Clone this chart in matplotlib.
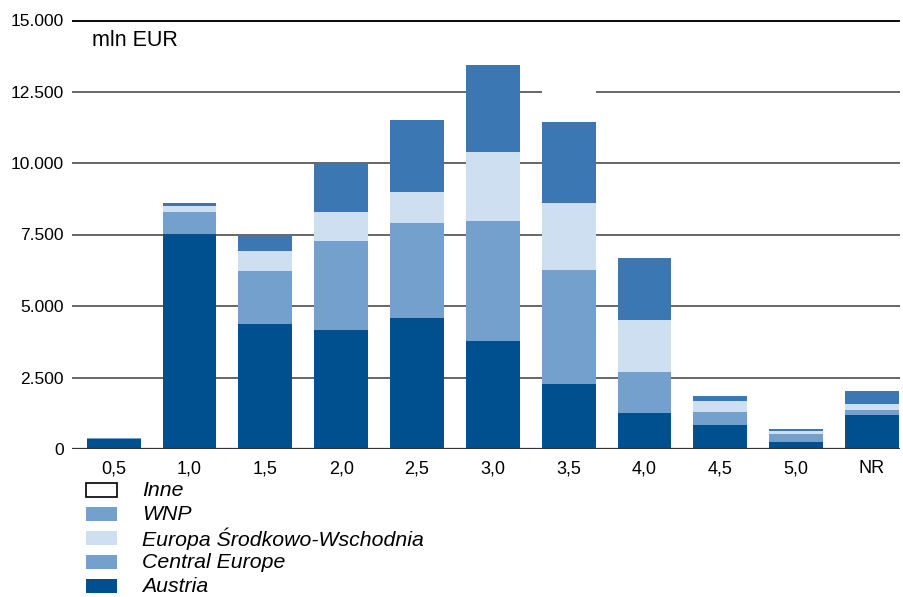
import matplotlib
matplotlib.use("Agg")
import matplotlib.pyplot as plt
from matplotlib.patches import Rectangle
import numpy as np

plt.rcParams['font.family'] = ['Liberation Sans', 'DejaVu Sans']

categories = ["0,5", "1,0", "1,5", "2,0", "2,5", "3,0", "3,5", "4,0", "4,5", "5,0", "NR"]
austria = [350, 7517, 4371, 4161, 4580, 3776, 2273, 1259, 839, 245, 1189]
central_europe = [20, 770, 1853, 3112, 3320, 4196, 3986, 1433, 455, 279, 175]
europa_sw = [0, 210, 699, 1014, 1086, 2412, 2342, 1818, 384, 105, 209]
wnp = [0, 104, 560, 1678, 2514, 3043, 2833, 2168, 175, 70, 455]
inne = [0, 0, 0, 0, 0, 0, 1200, 0, 0, 0, 0]

yticks = [0, 2500, 5000, 7500, 10000, 12500, 15000]
ytick_labels = ["0", "2.500", "5.000", "7.500", "10.000", "12.500", "15.000"]

legend_labels = ["Inne", "WNP", "Europa Środkowo-Wschodnia", "Central Europe", "Austria"]

c_austria = "#00508f"
c_ce = "#73a0cc"
c_esw = "#cddff0"
c_wnp = "#3b78b3"

fig = plt.figure(figsize=(9.04, 5.97), dpi=100)
ax = fig.add_axes([72/904, 1-449/597, (900-72)/904, (449-20)/597])

x = np.arange(len(categories))
w = 0.71
series = [(austria, c_austria), (central_europe, c_ce), (europa_sw, c_esw), (wnp, c_wnp), (inne, "white")]
bottom = np.zeros(len(categories))
for vals, col in series:
    v = np.array(vals, dtype=float)
    ax.bar(x, v, w, bottom=bottom, color=col, edgecolor="none", zorder=3)
    bottom += v

for yv in yticks[1:-1]:
    ax.axhline(yv, color="#5a5a5a", lw=1.3, zorder=1)
ax.axhline(15000, color="#111111", lw=2.2, zorder=4)
ax.axhline(0, color="#333333", lw=1.6, zorder=4)

ax.set_xlim(-0.55, 10.37)
ax.set_ylim(0, 15000)
ax.set_yticks(yticks)
ax.set_yticklabels(ytick_labels, fontsize=12.5)
ax.set_xticks(x)
ax.set_xticklabels(categories, fontsize=13)
ax.tick_params(length=0, pad=8)
ax.tick_params(axis='y', pad=6)
for s in ax.spines.values():
    s.set_visible(False)

ax.text(92/904, 1-40/597, "mln EUR", transform=fig.transFigure, fontsize=15.5, va="center", ha="left")

# legend
legend_colors = ["white", c_ce, c_esw, c_ce, c_austria]
row_y = [490, 514, 538, 562, 586]
for lab, col, yc in zip(legend_labels, legend_colors, row_y):
    ec = "black" if col == "white" else "none"
    r = Rectangle((86/904, 1-(yc+7)/597), 31/904, 14/597, transform=fig.transFigure,
                  facecolor=col, edgecolor=ec, lw=1.2)
    fig.add_artist(r)
    fig.text(142/904, 1-(yc+1)/597, lab, fontsize=15.3, style="italic", va="center", ha="left")

fig.savefig("out.png", dpi=100)
